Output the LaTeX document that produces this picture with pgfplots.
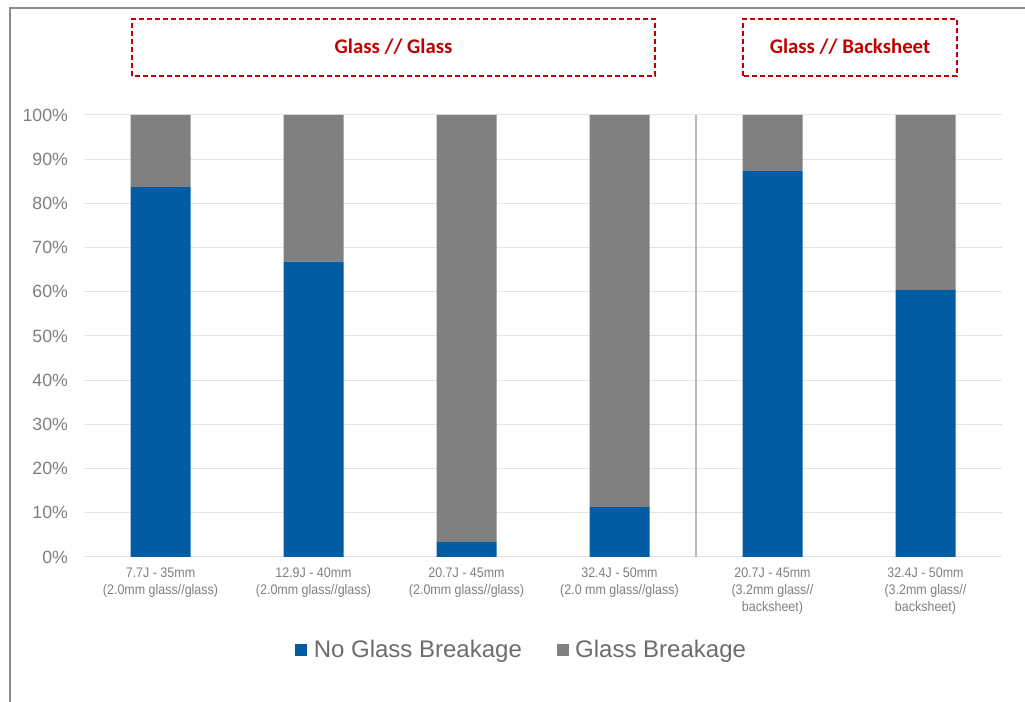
\documentclass[border=0pt]{standalone}
\usepackage{pgfplots}
\pgfplotsset{compat=1.18}
\usepackage{fontspec}
\setmainfont{Liberation Sans}
\newfontfamily\nar[FakeStretch=0.9]{Liberation Sans}
\newfontfamily\calib{Carlito}
\definecolor{cblue}{HTML}{005DA4}
\definecolor{cgray}{HTML}{808080}
\definecolor{ctick}{HTML}{7F7F7F}
\definecolor{cgrid}{HTML}{E3E3E3}
\definecolor{cred}{HTML}{C00000}
\definecolor{cframe}{HTML}{8C8C8C}
\begin{document}
\begin{tikzpicture}[x=0.75pt,y=0.75pt]
\useasboundingbox (0,0) rectangle (1025,702);
% frame
\draw[cframe, line width=1.2pt] (10,0) -- (10,694) -- (1025,694);
\begin{axis}[
  at={(63pt,108.75pt)}, anchor=south west,
  scale only axis, width=688.5pt, height=331.5pt,
  ybar stacked, bar width=45pt,
  xmin=-0.5, xmax=5.5, ymin=0, ymax=100,
  xtick=data,
  xticklabels={{7.7J - 35mm\\(2.0mm glass//glass)},{12.9J - 40mm\\(2.0mm glass//glass)},{20.7J - 45mm\\(2.0mm glass//glass)},{32.4J - 50mm\\(2.0 mm glass//glass)},{20.7J - 45mm\\(3.2mm glass//\\backsheet)},{32.4J - 50mm\\(3.2mm glass//\\backsheet)}},
  xticklabel style={align=center, font=\nar\fontsize{10.4}{12.8}\selectfont, text=ctick, yshift=-4.5pt},
  ytick={0,10,...,100},
  yticklabels={0\%,10\%,20\%,30\%,40\%,50\%,60\%,70\%,80\%,90\%,100\%},
  yticklabel style={font=\fontsize{13.3}{15}\selectfont, text=ctick, xshift=-8.5pt},
  ymajorgrids, major grid style={cgrid, line width=0.75pt},
  axis line style={draw=none},
  major tick length=0pt,
  legend style={at={(0.477,-0.21)}, anchor=center, draw=none, fill=none,
    legend columns=2, font=\fontsize{18}{20}\selectfont, text=ctick!85!black,
    /tikz/every odd column/.append style={column sep=3pt},
    /tikz/every even column/.append style={column sep=24pt}},
  legend image code/.code={\fill[#1] (0pt,-4.5pt) rectangle (9pt,4.5pt);},
]
\addplot[fill=cblue, draw=none] coordinates {(0,83.7) (1,66.8) (2,3.4) (3,11.3) (4,87.3) (5,60.4)};
\addplot[fill=cgray, draw=none] coordinates {(0,16.3) (1,33.2) (2,96.6) (3,88.7) (4,12.7) (5,39.6)};
\legend{No Glass Breakage, Glass Breakage}
\draw[cgrid!60!gray, line width=0.9pt] (axis cs:3.5,0) -- (axis cs:3.5,100);
\end{axis}
% group boxes
\draw[cred, line width=1.5pt, dash pattern=on 4pt off 2pt] (132,626) rectangle (655,683);
\draw[cred, line width=1.5pt, dash pattern=on 4pt off 2pt] (743,626) rectangle (957,683);
\node[text=cred, font=\calib\bfseries\fontsize{15.6}{18}\selectfont] at (393.5,655) {Glass // Glass};
\node[text=cred, font=\calib\bfseries\fontsize{15.6}{18}\selectfont] at (850,655) {Glass // Backsheet};
\end{tikzpicture}
\end{document}
